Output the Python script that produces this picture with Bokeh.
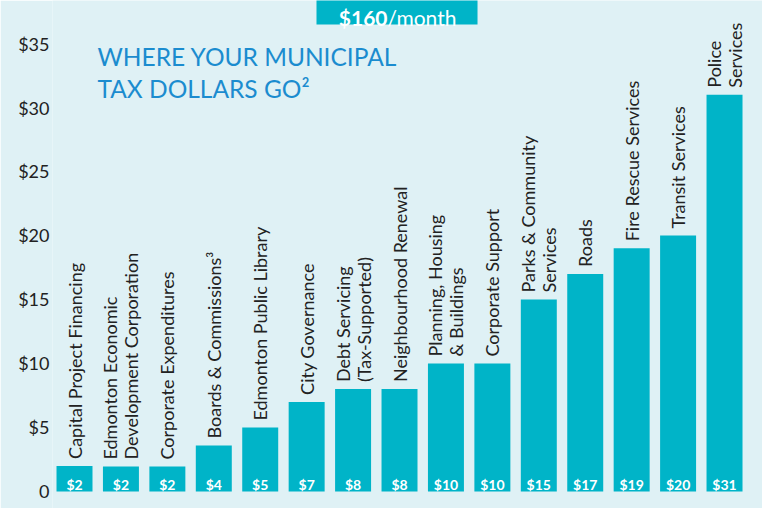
from bokeh.plotting import figure
from bokeh.models import ColumnDataSource, Range1d, FixedTicker
from bokeh.core.properties import value
from bokeh.embed import file_html
from bokeh.resources import INLINE

# ---- data ----
categories = [
    "Capital Project Financing",
    "Edmonton Economic\nDevelopment Corporation",
    "Corporate Expenditures",
    "Boards & Commissions\u00b3",
    "Edmonton Public Library",
    "City Governance",
    "Debt Servicing\n(Tax-Supported)",
    "Neighbourhood Renewal",
    "Planning, Housing\n& Buildings",
    "Corporate Support",
    "Parks & Community\nServices",
    "Roads",
    "Fire Rescue Services",
    "Transit Services",
    "Police\nServices",
]
monthly_dollars = [2.0, 1.95, 1.95, 3.6, 5, 7, 8, 8, 10, 10, 15, 17, 19, 20, 31]
value_labels = ["$2", "$2", "$2", "$4", "$5", "$7", "$8", "$8", "$10", "$10",
                "$15", "$17", "$19", "$20", "$31"]
y_ticks = [0, 5, 10, 15, 20, 25, 30, 35]
y_tick_labels = ["0", "$5", "$10", "$15", "$20", "$25", "$30", "$35"]
total_label = "$160"
total_unit = "/month"
title_lines = ["WHERE YOUR MUNICIPAL", "TAX DOLLARS GO\u00b2"]

TEAL = "#00b4c8"
BG = "#dff1f5"
BLUE = "#1b8ccf"
FONT = "Lato"

idx = list(range(len(categories)))
src = ColumnDataSource(dict(x=idx, top=monthly_dollars, cat=categories, val=value_labels))

p = figure(width=762, height=508, output_backend="svg", toolbar_location=None,
           x_axis_location=None,
           x_range=Range1d(-0.474, 14.818), y_range=Range1d(-1.33, 38.36),
           min_border_left=52, min_border_right=0, min_border_top=0, min_border_bottom=0)
p.background_fill_color = BG
p.border_fill_color = BG
p.outline_line_color = None
p.grid.visible = False

p.yaxis.ticker = FixedTicker(ticks=y_ticks)
p.yaxis.major_label_overrides = {t: l for t, l in zip(y_ticks, y_tick_labels)}
p.yaxis.axis_line_color = None
p.yaxis.major_tick_line_color = None
p.yaxis.major_tick_out = 0
p.yaxis.major_tick_in = 0
p.yaxis.minor_tick_line_color = None
p.yaxis.minor_tick_out = 0
p.yaxis.major_label_standoff = 3
p.yaxis.major_label_text_font = FONT
p.yaxis.major_label_text_font_size = "18px"
p.yaxis.major_label_text_color = "#222222"

p.vbar(x="x", top="top", bottom=0, width=0.775, source=src, fill_color=TEAL, line_color=None)

# category labels above bars (rotated)
p.text(x="x", y="top", text="cat", source=src, angle=1.5708, y_offset=-7,
       text_align="left", text_baseline="middle", text_font=value(FONT),
       text_font_size="18px", text_color="#222222", text_line_height=0.95)

# value labels inside bars
p.text(x="x", y=0, text="val", source=src, y_offset=-7,
       text_align="center", text_baseline="alphabetic", text_font=value(FONT),
       text_font_size="14px", text_font_style="bold", text_color="white")

# header box
p.quad(left=[5.212], right=[8.680], bottom=[36.48], top=[40], fill_color=TEAL, line_color=None)
p.text(x=[6.741], y=[37.03], text=[total_label], text_align="right", text_baseline="alphabetic",
       text_font=value(FONT), text_font_size="21px", text_font_style="bold", text_color="white")
p.text(x=[6.741], y=[37.03], text=[total_unit], text_align="left", text_baseline="alphabetic",
       text_font=value(FONT), text_font_size="21px", text_color="white")

# title
p.text(x=[0.495, 0.495], y=[33.98, 31.48], text=title_lines, text_align="left",
       text_baseline="alphabetic", text_font=value(FONT), text_font_size="24.5px",
       text_color=BLUE)

open("out.html", "w").write(file_html(p, INLINE))
